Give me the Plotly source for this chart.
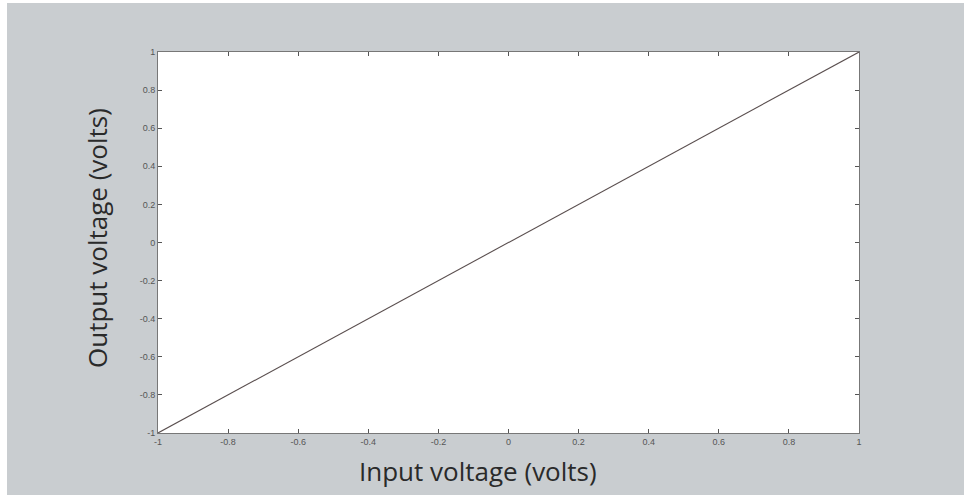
import plotly.graph_objects as go

input_v = [-1.0, -0.5, 0.0, 0.5, 1.0]
output_v = [-1.0, -0.5, 0.0, 0.5, 1.0]
tick_vals = [-1, -0.8, -0.6, -0.4, -0.2, 0, 0.2, 0.4, 0.6, 0.8, 1]
tick_text = ["-1", "-0.8", "-0.6", "-0.4", "-0.2", "0", "0.2", "0.4", "0.6", "0.8", "1"]

W, H = 964, 495
L, R, T, B = 158, 105, 52, 62
pw, ph = W - L - R, H - T - B

def px(x):
    return (x - L) / pw

def py(y):
    return 1 - (y - T) / ph

fig = go.Figure()
fig.add_trace(go.Scatter(x=input_v, y=output_v, mode="lines",
                         line=dict(color="#5a4f4f", width=1.1), showlegend=False))

axis_common = dict(range=[-1, 1], tickvals=tick_vals, ticktext=tick_text,
                   ticks="inside", ticklen=4, tickcolor="#555", showgrid=False,
                   zeroline=False, showline=True, linecolor="#777", linewidth=1,
                   mirror="ticks", tickfont=dict(size=9, color="#555", family="Liberation Sans"))
fig.update_xaxes(**axis_common)
fig.update_yaxes(**axis_common)

gray = "#c9cdd0"
fig.update_layout(
    width=W, height=H,
    margin=dict(l=L, r=R, t=T, b=B),
    paper_bgcolor=gray, plot_bgcolor="white",
    shapes=[
        dict(type="rect", xref="paper", yref="paper", x0=px(0), x1=px(7), y0=py(H), y1=py(0),
             fillcolor="white", line=dict(width=0), layer="below"),
        dict(type="rect", xref="paper", yref="paper", x0=px(0), x1=px(W), y0=py(3), y1=py(0),
             fillcolor="white", line=dict(width=0), layer="below"),
    ],
    annotations=[
        dict(text="Input voltage (volts)", xref="paper", yref="paper", x=px(478), y=py(471),
             showarrow=False, xanchor="center", yanchor="middle",
             font=dict(size=26, color="#2a2a2a", family="Open Sans")),
        dict(text="Output voltage (volts)", xref="paper", yref="paper", x=px(97), y=py(238),
             showarrow=False, xanchor="center", yanchor="middle", textangle=-90,
             font=dict(size=26, color="#2a2a2a", family="Open Sans")),
    ],
)

fig.write_html("out.html", config={"displayModeBar": False},
               post_script="document.body.style.margin='0';document.body.style.padding='0';")
